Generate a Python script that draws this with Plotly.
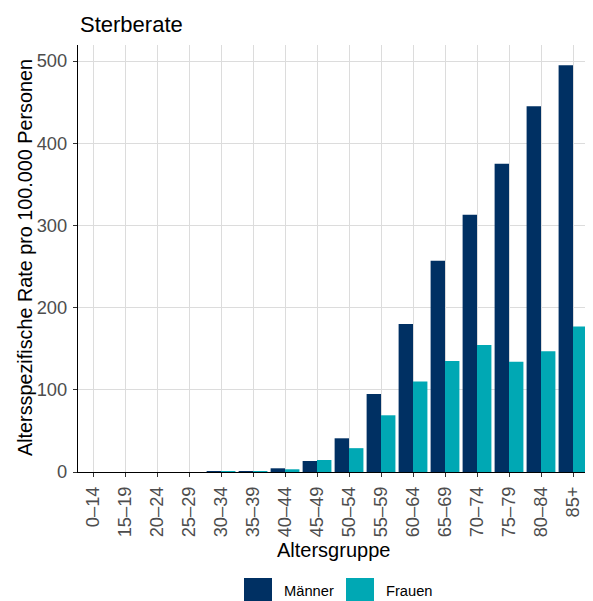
import plotly.graph_objects as go

categories = ["0–14", "15–19", "20–24", "25–29", "30–34", "35–39", "40–44", "45–49",
              "50–54", "55–59", "60–64", "65–69", "70–74", "75–79", "80–84", "85+"]
maenner = [0, 0, 0, 0, 0.5, 1.2, 4.5, 13.4, 41, 95, 180, 257, 313, 375, 445, 495]
frauen = [0, 0, 0, 0, 0.4, 0.8, 3.3, 14.6, 29, 69, 110, 135, 154.5, 134, 147, 177]
y_ticks = [0, 100, 200, 300, 400, 500]
series_names = ["Männer", "Frauen"]

NAVY = "#003063"
TEAL = "#00A8B4"
FONT = "Liberation Sans, Arial, sans-serif"

OFF = 8  # browser default body margin
W, H = 593 - OFF, 601 - OFF
# plot panel in window pixels: x 78..589, y 45..472
PX0, PX1, PY0, PY1 = 78, 589, 45, 472
L, R, T, B = PX0 - OFF, W - (PX1 - OFF), PY0 - OFF, H - (PY1 - OFF)
PW, PH = W - L - R, H - T - B


def px_x(px):
    return (px - PX0) / PW


def px_y(py):
    return (PY1 - py) / PH


fig = go.Figure()
fig.add_trace(go.Bar(x=categories, y=maenner, name=series_names[0], marker_color=NAVY,
                     marker_line_width=0, showlegend=False))
fig.add_trace(go.Bar(x=categories, y=frauen, name=series_names[1], marker_color=TEAL,
                     marker_line_width=0, showlegend=False))

fig.update_layout(
    width=W, height=H,
    barmode="group", bargap=0.1, bargroupgap=0,
    plot_bgcolor="white", paper_bgcolor="white",
    margin=dict(l=L, r=R, t=T, b=B, autoexpand=False),
    font=dict(family=FONT, color="black"),
    showlegend=False,
    title=dict(text="Sterberate", x=(80 - OFF) / W, xref="container", xanchor="left",
               y=1 - (24 - OFF) / H, yref="container", yanchor="middle",
               font=dict(size=22, color="black")),
)
fig.update_xaxes(
    type="category", range=[-0.47, 15.5], automargin=False,
    tickangle=-90, tickfont=dict(size=18.3, color="#4d4d4d"),
    showgrid=True, gridcolor="#dcdcdc", gridwidth=1.3,
    showline=True, linecolor="black", linewidth=1.3,
    ticks="outside", ticklen=4, tickcolor="#333333", tickwidth=1.1,
    ticklabelstandoff=2,
    zeroline=False,
)
fig.update_yaxes(
    range=[0, 519.5], tickvals=y_ticks, automargin=False,
    tickfont=dict(size=18.3, color="#4d4d4d"),
    showgrid=True, gridcolor="#dcdcdc", gridwidth=1.3,
    showline=True, linecolor="black", linewidth=1.3,
    ticks="outside", ticklen=4, tickcolor="#333333", tickwidth=1.1,
    ticklabelstandoff=2,
    zeroline=False,
)

# axis titles
fig.add_annotation(text="Altersgruppe", xref="paper", yref="paper",
                   x=0.5, y=px_y(550), xanchor="center", yanchor="middle",
                   showarrow=False, font=dict(size=20, color="black"))
fig.add_annotation(text="Altersspezifische Rate pro 100.000 Personen", xref="paper", yref="paper",
                   x=px_x(24.5), y=px_y(257.5), xanchor="center", yanchor="middle", textangle=-90,
                   showarrow=False, font=dict(size=19.8, color="black"))

# legend drawn with large square keys like ggplot
legend_items = [(series_names[0], NAVY, 244, 282), (series_names[1], TEAL, 346, 384)]
for name, col, kx, tx in legend_items:
    fig.add_shape(type="rect", xref="paper", yref="paper",
                  x0=px_x(kx), x1=px_x(kx + 28), y0=px_y(578), y1=px_y(601),
                  fillcolor=col, line_width=0)
    fig.add_annotation(text=name, xref="paper", yref="paper",
                       x=px_x(tx), y=px_y(591), xanchor="left", yanchor="middle",
                       showarrow=False, font=dict(size=14.7, color="black"))

fig.write_html("out.html")
